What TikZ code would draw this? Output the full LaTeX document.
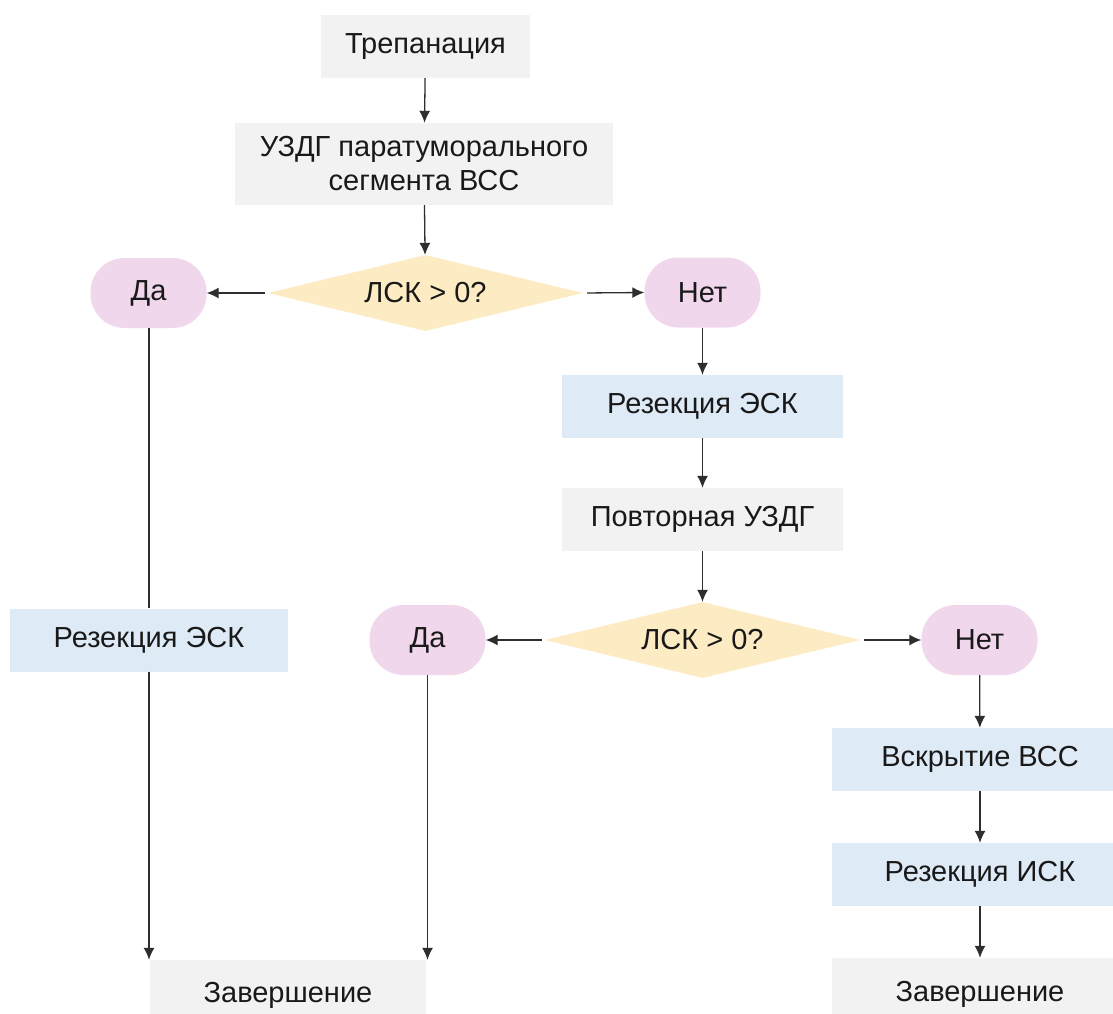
\documentclass[tikz,border=0pt]{standalone}
\usepackage{fontspec}
\setmainfont{Liberation Sans}
\usetikzlibrary{shapes.geometric,arrows.meta}

\definecolor{boxgray}{HTML}{F2F2F2}
\definecolor{boxblue}{HTML}{DEEAF6}
\definecolor{pillpink}{HTML}{F1D7EB}
\definecolor{diayellow}{HTML}{FDEBC3}
\definecolor{linegray}{HTML}{2E2E2E}

\begin{document}
\begin{tikzpicture}[x=1pt, y=-1pt,
  every node/.style={inner sep=0pt, text=black!90, font=\fontsize{29}{34}\selectfont},
  graybox/.style={fill=boxgray, minimum height=63pt},
  bluebox/.style={fill=boxblue, minimum height=63pt},
  pill/.style={fill=pillpink, rounded corners=34pt, minimum width=116pt, minimum height=70pt},
  lskdia/.style={diamond, aspect=4.2, fill=diayellow, minimum width=315pt, minimum height=76pt},
  arr/.style={draw=linegray, line width=1.3pt, -{Latex[length=12pt,width=11pt]}},
  conn/.style={draw=linegray, line width=1.3pt}]

  %% ════ 上部：主干 ════
  \node[graybox, minimum width=209pt] (trep) at (425.5,46.5) {Трепанация};
  \node[graybox, minimum width=378pt, minimum height=82pt, align=center] (uzdg) at (424.0,164.0)
    {УЗДГ паратуморального\\сегмента ВСС};
  \node[lskdia] (lsk1) at (425.5,293.0) {ЛСК > 0?};
  \node[pill] (da1) at (148.5,293.0) {Да};
  \node[pill] (net1) at (702.5,292.5) {Нет};

  %% ════ 右列：第一次“否” ════
  \node[bluebox, minimum width=281pt] (rez1) at (702.5,406.5) {Резекция ЭСК};
  \node[graybox, minimum width=281pt] (povt) at (702.5,519.5) {Повторная УЗДГ};
  \node[lskdia] (lsk2) at (702.5,640.0) {ЛСК > 0?};
  \node[pill] (da2) at (427.5,640.0) {Да};
  \node[pill] (net2) at (979.5,640.0) {Нет};

  %% ════ 左列 ════
  \node[bluebox, minimum width=278pt] (rezL) at (149.0,640.0) {Резекция ЭСК};
  \node[graybox, minimum width=276pt, minimum height=70pt] (zavL) at (288.0,995.0) {Завершение};

  %% ════ 最右列 ════
  \node[bluebox, minimum width=296pt] (vskr) at (980.0,759.5) {Вскрытие ВСС};
  \node[bluebox, minimum width=296pt] (rezIsk) at (980.0,874.5) {Резекция ИСК};
  \node[graybox, minimum width=296pt, minimum height=72pt] (zavR) at (980.0,994.0) {Завершение};

  %% ════ 连线 ════
  \draw[arr] (trep) -- (uzdg);
  \draw[arr] (uzdg) -- (lsk1);
  \draw[arr, shorten <=3pt] (lsk1.west) -- (da1.east);
  \draw[arr, shorten <=4pt] (lsk1.east) -- (net1.west);
  \draw[arr] (net1) -- (rez1);
  \draw[arr] (rez1) -- (povt);
  \draw[arr] (povt) -- (lsk2);
  \draw[arr, shorten <=3pt] (lsk2.west) -- (da2.east);
  \draw[arr, shorten <=4pt] (lsk2.east) -- (net2.west);
  \draw[arr] (net2) -- (vskr);
  \draw[arr] (vskr) -- (rezIsk);
  \draw[arr] (rezIsk) -- (zavR);

  %% 左侧两条长竖线：“Да” → “Завершение”
  \draw[conn] (rezL.north |- da1.south) -- (rezL.north);
  \draw[arr] (rezL.south) -- (rezL.south |- zavL.north);
  \draw[arr] (da2.south) -- (da2.south |- zavL.north);

  % 钉死画布
  \pgfresetboundingbox
  \path[use as bounding box] (0,0) rectangle (1113,1014);
\end{tikzpicture}
\end{document}
